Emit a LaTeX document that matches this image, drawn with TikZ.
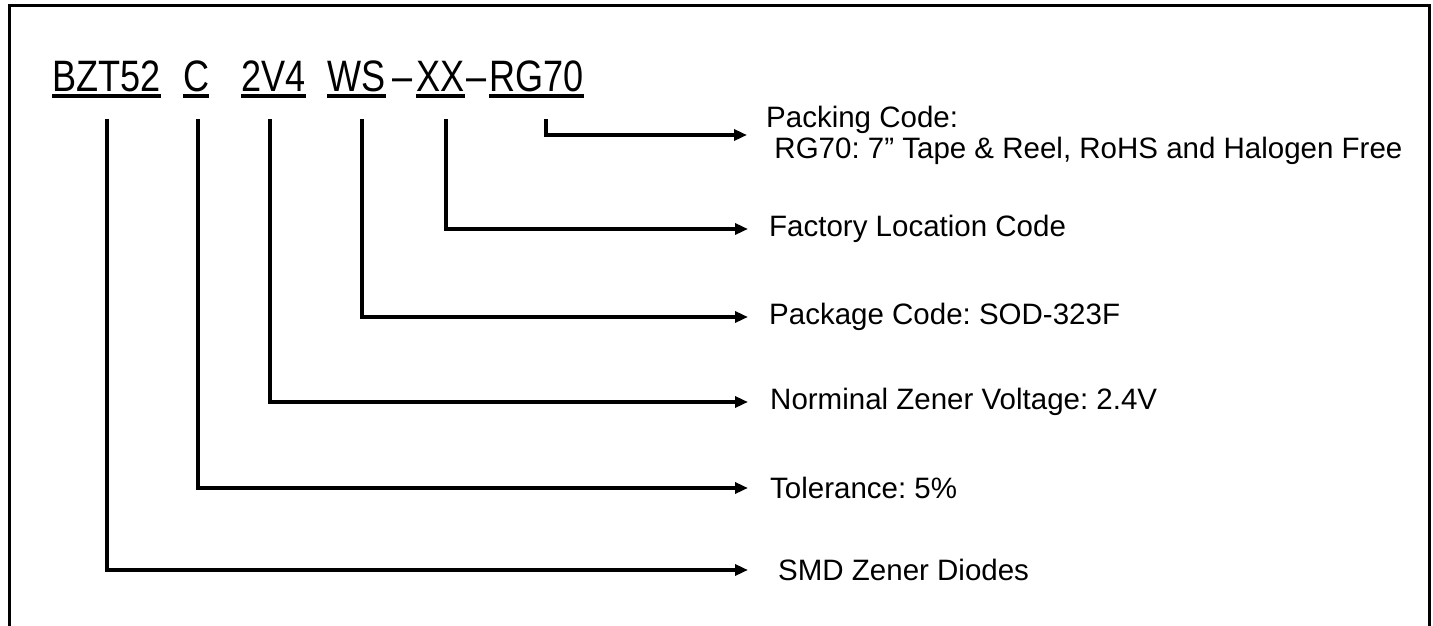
\documentclass[tikz,border=0pt]{standalone}
\usepackage{fontspec}
\setmainfont{Liberation Sans}
\newfontfamily\narrowfont[FakeStretch=0.82]{Liberation Sans}
\usetikzlibrary{arrows.meta}
\frenchspacing

\tikzset{
  lead/.style={line width=3.5pt, -{Triangle[length=13pt,width=11pt]}},
  code/.style={font=\narrowfont\fontsize{44}{50}\selectfont, inner sep=0pt, anchor=base west},
  desc/.style={font=\fontsize{29.5}{31}\selectfont, inner sep=0pt, anchor=west, align=left},
  uline/.style={line width=3pt}
}

\begin{document}
\begin{tikzpicture}[x=1pt,y=-1pt]
  \useasboundingbox (0,0) rectangle (1433,626);

  % Frame, open at the bottom
  \draw[line width=3pt] (9,626) -- (9,6) -- (1429,6) -- (1429,626);

  % Part number
  \node[code] (bzt) at (52,92) {BZT52};
  \node[code] (tol) at (183,92) {C\ };
  \node[code] (volt) at (241,92) {2V4};
  \node[code] (pkg) at (327,92) {WS};
  \node[code] (dashA) at (392,92) {–};
  \node[code] (fac) at (416,92) {XX};
  \node[code] (dashB) at (466,92) {–};
  \node[code] (pack) at (489,92) {RG70};

  %underlines
  \foreach \n in {bzt,tol,volt,pkg,fac,pack}
    {\draw[uline] ([yshift=-4pt]\n.base west) -- ([yshift=-4pt]\n.base east);}

  % Drop points below each field
  \coordinate (sbzt) at (107,119);
  \coordinate (stol) at (198,119);
  \coordinate (svolt) at (270,119);
  \coordinate (spkg) at (362,119);
  \coordinate (sfac) at (446,119);
  \coordinate (spack) at (546,119);

  % Descriptions
  \node[desc] (lpack) at (766,135) {Packing Code:\\\hspace*{0.28em}RG70: 7” Tape \& Reel, RoHS and Halogen Free};
  \node[desc] (lfac) at (769,229) {Factory Location Code};
  \node[desc] (lpkg) at (769,317) {Package Code: SOD-323F};
  \node[desc] (lvolt) at (770,402) {Norminal Zener Voltage: 2.4V};
  \node[desc] (ltol) at (770,488) {Tolerance: 5\%};
  \node[desc] (lbzt) at (778,570) {SMD Zener Diodes};

  % Leaders
  \foreach \s/\l/\g in {spack/lpack/19, sfac/lfac/21, spkg/lpkg/21, svolt/lvolt/22, stol/ltol/22, sbzt/lbzt/30}
    {\draw[lead] (\s) |- ([xshift=-\g pt]\l.west);}

\end{tikzpicture}
\end{document}
